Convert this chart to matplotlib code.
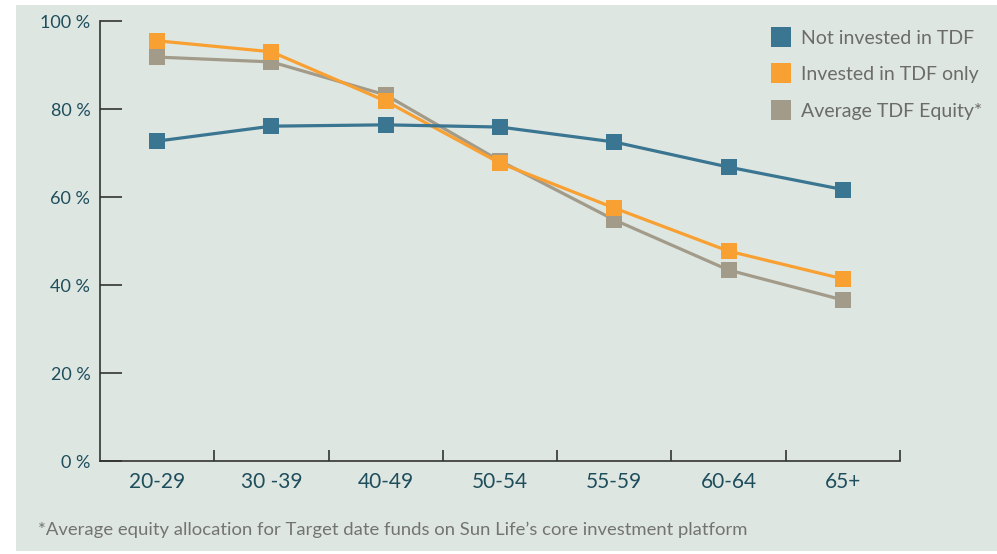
import matplotlib
matplotlib.use('Agg')
import matplotlib.pyplot as plt
from matplotlib.lines import Line2D
from matplotlib.patches import Rectangle

# age groups and equity allocation (%)
ages = ['20-29', '30 -39', '40-49', '50-54', '55-59', '60-64', '65+']
not_invested = [72.7, 76.1, 76.4, 75.9, 72.5, 66.8, 61.7]
invested_only = [95.5, 93.0, 81.8, 67.7, 57.5, 47.7, 41.4]
avg_tdf = [91.8, 90.7, 83.2, 68.2, 54.8, 43.4, 36.6]
series_names = ['Not invested in TDF', 'Invested in TDF only', 'Average TDF Equity*']
yticks = [0, 20, 40, 60, 80, 100]
ytick_labels = ['0 %', '20 %', '40 %', '60 %', '80 %', '100 %']

blue = '#3a7591'
orange = '#f9a032'
grey = '#a39b8a'
bg = '#dee6e1'
txt = '#1e4d5c'

plt.rcParams['font.family'] = ['Lato', 'DejaVu Sans']

fig = plt.figure(figsize=(9.97, 5.54), dpi=100)
fig.patch.set_facecolor('white')
fig.patches.append(Rectangle((16/997, 3/554), 981/997, 546/554, transform=fig.transFigure,
                             facecolor=bg, edgecolor='none', zorder=-10))

ax = fig.add_axes([100/997, (554-461)/554, 800/997, 440/554])
ax.set_facecolor('none')
ax.set_zorder(2)

x = range(len(ages))
ax.plot(x, avg_tdf, color=grey, lw=2.3, marker='s', ms=11.5, mew=0, zorder=3)
ax.plot(x, invested_only, color=orange, lw=2.3, marker='s', ms=11.5, mew=0, zorder=4)
ax.plot(x, not_invested, color=blue, lw=2.3, marker='s', ms=11.5, mew=0, zorder=5)

ax.set_xlim(-0.5, 6.5)
ax.set_ylim(0, 100)
ax.set_yticks(yticks)
ax.set_yticklabels(ytick_labels, color=txt, fontsize=13)
ax.set_xticks(list(x))
ax.set_xticklabels(ages, color=txt, fontsize=15)
ax.tick_params(axis='x', which='major', length=0, pad=8)
ax.set_xticks([i + 0.5 for i in range(len(ages))], minor=True)
ax.tick_params(axis='x', which='minor', direction='in', length=8, width=1.2, color='#333333')
ax.tick_params(axis='y', direction='in', length=16, width=1.2, color='#333333', pad=7)
for s in ['top', 'right']:
    ax.spines[s].set_visible(False)
for s in ['left', 'bottom']:
    ax.spines[s].set_color('#333333')
    ax.spines[s].set_linewidth(1.2)

handles = [Line2D([], [], color=c, marker='s', ms=14.5, mew=0, ls='none') for c in (blue, orange, grey)]
leg = fig.legend(handles, series_names, loc='upper left', bbox_to_anchor=(762/997, 1 - 22/554),
                 frameon=False, fontsize=14, labelcolor='#6b6b6b', handletextpad=0.4,
                 labelspacing=1.0, handlelength=1.2, borderaxespad=0)

fig.text(38/997, 1 - 530/554, '*Average equity allocation for Target date funds on Sun Life\u2019s core investment platform',
         color='#737373', fontsize=13.3, va='center', ha='left')

fig.savefig('out.png', dpi=100)
